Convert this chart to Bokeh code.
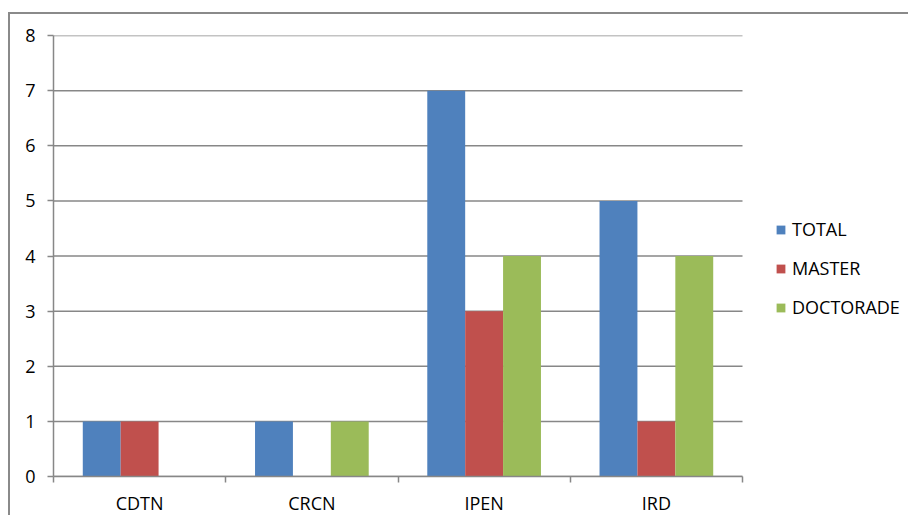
from bokeh.plotting import figure
from bokeh.models import FixedTicker, Legend, LegendItem, Range1d
from bokeh.embed import file_html
from bokeh.resources import INLINE

categories = ["CDTN", "CRCN", "IPEN", "IRD"]
series_names = ["TOTAL", "MASTER", "DOCTORADE"]
total = [1, 1, 7, 5]
master = [1, 0, 3, 1]
doctorade = [0, 1, 4, 4]
y_ticks = [0, 1, 2, 3, 4, 5, 6, 7, 8]

series_values = [total, master, doctorade]
colors = ["#4F81BD", "#C0504D", "#9BBB59"]
FONT = "Open Sans"
GREY = "#878787"
FS = "18px"

W, H = 900, 503
MB_LEFT, MB_RIGHT = 43, 0
PLOT_PX = 689  # pixel width of the category area
n = len(categories)
frame_w = W - MB_LEFT - MB_RIGHT
x_end = n * frame_w / PLOT_PX

p = figure(width=W, height=H, output_backend="svg", toolbar_location=None,
           x_range=Range1d(0, x_end), y_range=Range1d(0, 8),
           min_border_left=MB_LEFT, min_border_right=MB_RIGHT, min_border_top=21,
           min_border_bottom=40)
p.styles = {"border-left": "2px solid #8a8a8a", "border-top": "2px solid #8a8a8a",
            "position": "relative", "top": "12px", "left": "8px"}
p.outline_line_color = None
p.background_fill_color = "white"
p.border_fill_color = "white"

# horizontal gridlines limited to the category area
p.xgrid.visible = False
p.ygrid.visible = False
p.segment(x0=[0] * len(y_ticks), x1=[n] * len(y_ticks), y0=y_ticks, y1=y_ticks,
          line_color=GREY, line_width=1.5)

bw = 0.22
offsets = [-bw, 0.0, bw]
renderers = []
for name, vals, off, col in zip(series_names, series_values, offsets, colors):
    xs = [i + 0.5 + off for i in range(n)]
    r = p.vbar(x=xs, top=vals, width=bw, bottom=0, fill_color=col, line_color=None)
    renderers.append((name, r))

yax = p.yaxis[0]
yax.ticker = FixedTicker(ticks=y_ticks)
yax.axis_line_color = GREY
yax.axis_line_width = 1.5
yax.major_tick_line_color = GREY
yax.major_tick_line_width = 1.5
yax.major_tick_out = 6
yax.major_tick_in = 0
yax.minor_tick_line_color = None
yax.major_label_standoff = 12
yax.major_label_text_font = FONT
yax.major_label_text_font_size = FS
yax.major_label_text_color = "black"

xax = p.xaxis[0]
xax.bounds = (0, n)
xax.ticker = FixedTicker(ticks=[i + 0.5 for i in range(n)],
                         minor_ticks=list(range(n + 1)))
xax.major_label_overrides = {i + 0.5: c for i, c in enumerate(categories)}
xax.axis_line_color = GREY
xax.axis_line_width = 1.5
xax.major_tick_line_color = None
xax.major_tick_out = 0
xax.major_tick_in = 0
xax.minor_tick_line_color = GREY
xax.minor_tick_line_width = 1.5
xax.minor_tick_out = 6
xax.minor_tick_in = 0
xax.major_label_standoff = 8
xax.major_label_text_font = FONT
xax.major_label_text_font_size = FS
xax.major_label_text_color = "black"

legend = Legend(items=[LegendItem(label=nm, renderers=[r]) for nm, r in renderers],
                location=(722, 157), padding=0, margin=0, spacing=15,
                glyph_width=11, glyph_height=11, label_height=24,
                label_standoff=6, label_text_font=FONT,
                label_text_font_size=FS, label_text_color="black",
                border_line_color=None, background_fill_alpha=0)
p.add_layout(legend, "center")

open("out.html", "w").write(file_html(p, INLINE))
